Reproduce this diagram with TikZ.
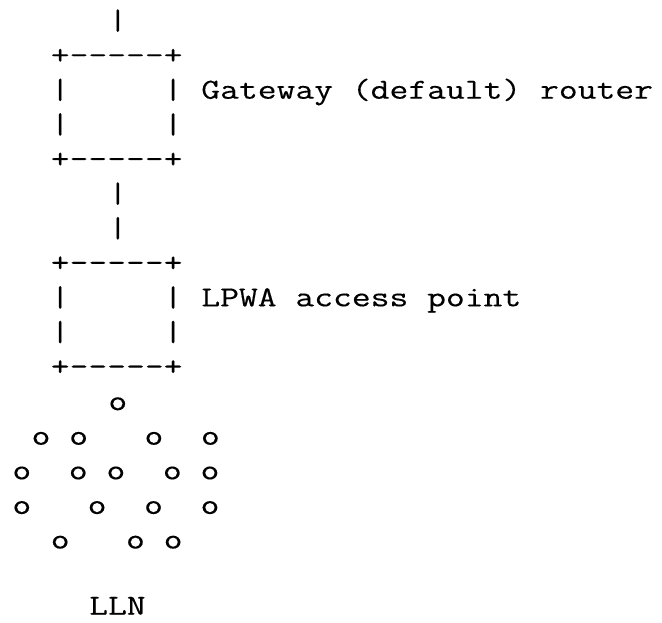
\documentclass[tikz,border=0pt]{standalone}
\usepackage{fontspec}
% Typewriter face widened to a 19.2pt character cell
\setmonofont{Latin Modern Mono}[FakeStretch=1.26, FakeBold=0.3]
\begin{document}
\begin{tikzpicture}[
  line/.style={anchor=base west, inner sep=0pt, outer sep=0pt,
    font=\fontsize{29}{32}\ttfamily}
]
\useasboundingbox (0pt,0pt) rectangle (662pt,-622pt);
% one column = 19.2pt, one text line = 34.6pt
\begin{scope}[x=19.2pt, y=-34.6pt, xshift=12.4pt, yshift=-29.5pt]
  \node[line] (uplink)  at (5,0)  {|};
  \node[line] (gwtop)   at (2,1)  {+-----+};
  \node[line] (gwmid)   at (2,2)  {|~~~~~|~Gateway~(default)~router};
  \node[line] (gwlow)   at (2,3)  {|~~~~~|};
  \node[line] (gwbot)   at (2,4)  {+-----+};
  \node[line] (linka)   at (5,5)  {|};
  \node[line] (linkb)   at (5,6)  {|};
  \node[line] (aptop)   at (2,7)  {+-----+};
  \node[line] (apmid)   at (2,8)  {|~~~~~|~LPWA~access~point};
  \node[line] (aplow)   at (2,9)  {|~~~~~|};
  \node[line] (apbot)   at (2,10) {+-----+};
  \node[line] (meshA)   at (5,11) {o};
  \node[line] (meshB)   at (1,12) {o~o~~~o~~o};
  \node[line] (meshC)   at (0,13) {o~~o~o~~o~o};
  \node[line] (meshD)   at (0,14) {o~~~o~~o~~o};
  \node[line] (meshE)   at (2,15) {o~~~o~o};
  \node[line, text depth=0pt, yshift=3pt] (lln) at (4,17) {LLN};
\end{scope}
\end{tikzpicture}
\end{document}
